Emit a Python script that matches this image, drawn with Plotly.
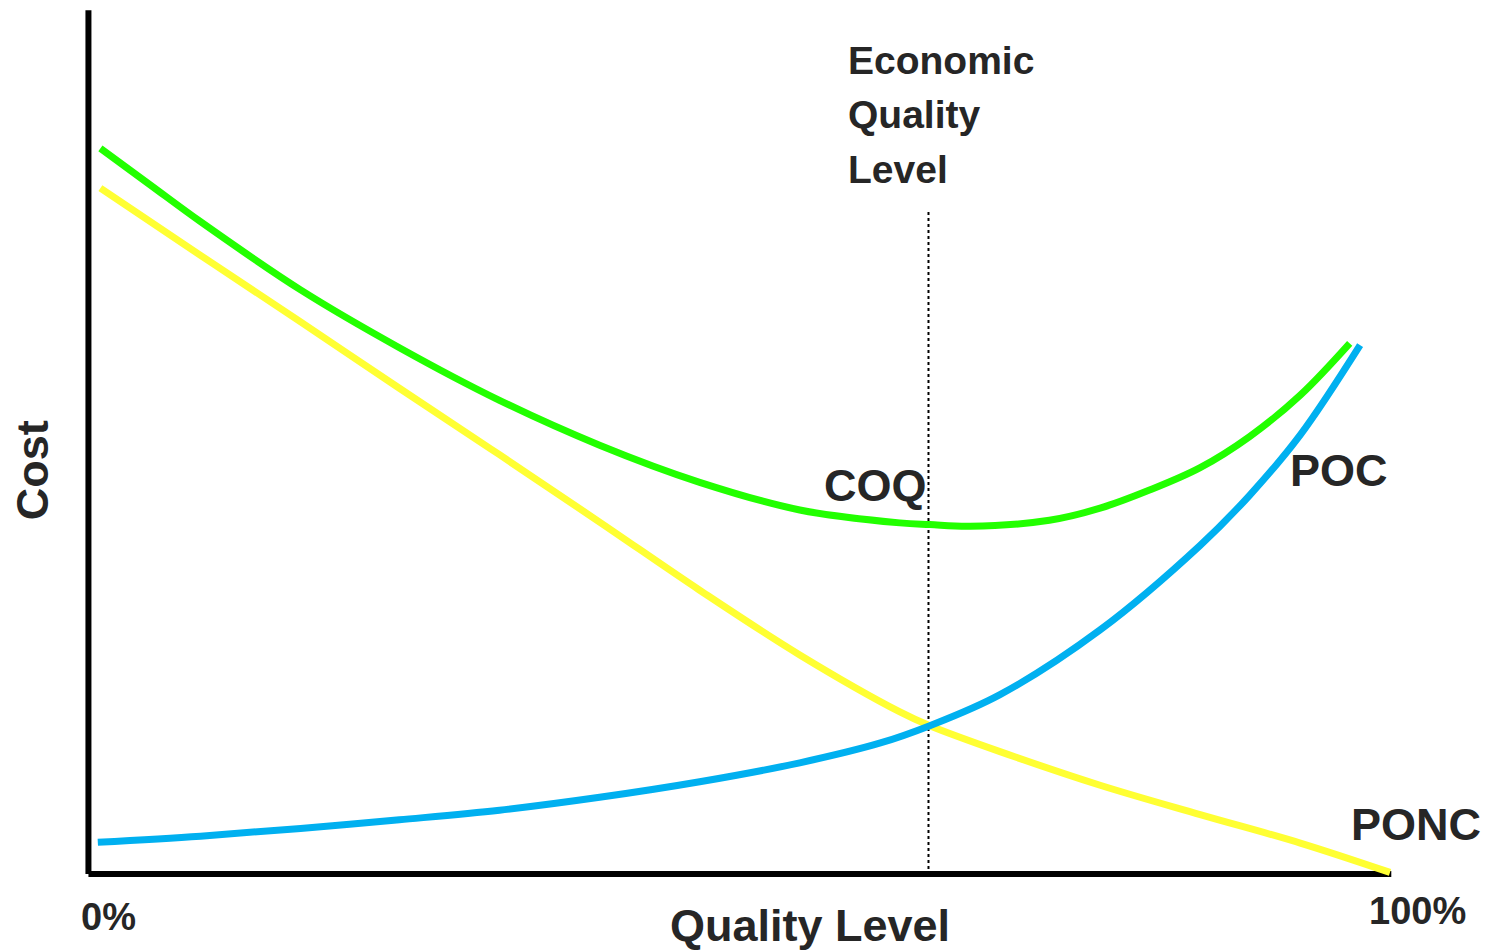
import plotly.graph_objects as go

# Quality level (% of perfect quality) and cost values for each curve
coq_quality = [0.8, 4.6, 8.5, 16.2, 23.8, 31.5, 39.2, 46.9, 54.6, 62.3, 64.6, 67.7, 73.8, 77.7, 81.5, 85.4, 89.2, 93.1, 96.9]
coq_cost = [84.2, 80.0, 75.7, 67.8, 61.1, 55.0, 49.8, 45.5, 42.3, 40.8, 40.6, 40.4, 41.1, 42.5, 44.6, 47.2, 50.8, 55.6, 61.6]

ponc_quality = [0.8, 8.5, 16.2, 23.8, 31.5, 39.2, 46.9, 54.6, 62.3, 64.6, 70.0, 77.7, 85.4, 93.1, 100.0]
ponc_cost = [79.6, 71.8, 64.1, 56.4, 48.7, 40.9, 33.0, 25.5, 18.9, 17.3, 14.3, 10.4, 7.0, 3.7, 0.3]

poc_quality = [0.6, 8.5, 16.2, 23.8, 31.5, 39.2, 46.9, 54.6, 60.8, 64.6, 70.0, 77.7, 85.4, 89.2, 93.1, 97.7]
poc_cost = [3.8, 4.5, 5.4, 6.4, 7.5, 9.0, 10.8, 13.0, 15.3, 17.3, 20.9, 28.4, 38.2, 44.0, 51.0, 61.4]

economic_quality_level = 64.5

TEXT = "#262626"
FONT = "Liberation Sans, Arial, sans-serif"
X_RANGE = [-0.769, 100.77]
Y_RANGE = [-1.159, 100.81]

fig = go.Figure()

series = [
    ("COQ", coq_quality, coq_cost, "#22FF00"),
    ("PONC", ponc_quality, ponc_cost, "#FFFF33"),
    ("POC", poc_quality, poc_cost, "#00B0F0"),
]
for name, xs, ys, color in series:
    fig.add_trace(go.Scatter(
        x=xs, y=ys, name=name, mode="lines",
        line=dict(color=color, width=7, shape="spline", smoothing=1.0),
        hoverinfo="skip", showlegend=False, cliponaxis=False,
    ))

# Axis lines
fig.add_shape(type="line", x0=-0.12, x1=-0.12, y0=0.12, y1=100.2,
              line=dict(color="black", width=6), layer="below")
fig.add_shape(type="line", x0=-0.12, x1=100.1, y0=0.12, y1=0.12,
              line=dict(color="black", width=6), layer="below")

# Economic quality level marker
fig.add_shape(type="line", x0=economic_quality_level, x1=economic_quality_level,
              y0=0.0, y1=77.0, line=dict(color="black", width=2, dash="dot"), layer="below")


def label(text, x, y, size, xanchor="center", angle=0):
    # place text by data position, expressed as a paper fraction so it may sit outside the plot area
    px = (x - X_RANGE[0]) / (X_RANGE[1] - X_RANGE[0])
    py = (y - Y_RANGE[0]) / (Y_RANGE[1] - Y_RANGE[0])
    fig.add_annotation(x=px, y=py, xref="paper", yref="paper", text=f"<b>{text}</b>",
                       showarrow=False, xanchor=xanchor, yanchor="middle", textangle=angle,
                       font=dict(family=FONT, size=size, color=TEXT))


label("Economic", 58.15, 94.4, 39, xanchor="left")
label("Quality", 58.15, 88.1, 39, xanchor="left")
label("Level", 58.15, 81.7, 39, xanchor="left")
label("COQ", 60.4, 45.1, 45)
label("POC", 96.1, 46.9, 45)
label("PONC", 102.0, 5.8, 45)
label("100%", 102.1, -4.2, 38)
label("0%", 1.4, -4.9, 38)
label("Quality Level", 55.4, -5.8, 45)
label("Cost", -4.46, 46.9, 45, angle=-90)

fig.update_xaxes(range=X_RANGE, visible=False, fixedrange=True)
fig.update_yaxes(range=Y_RANGE, visible=False, fixedrange=True)

fig.update_layout(
    width=1488, height=950,
    margin=dict(l=80, r=88, t=5, b=65),
    plot_bgcolor="white", paper_bgcolor="white",
    showlegend=False,
)

fig.write_html("out.html")
